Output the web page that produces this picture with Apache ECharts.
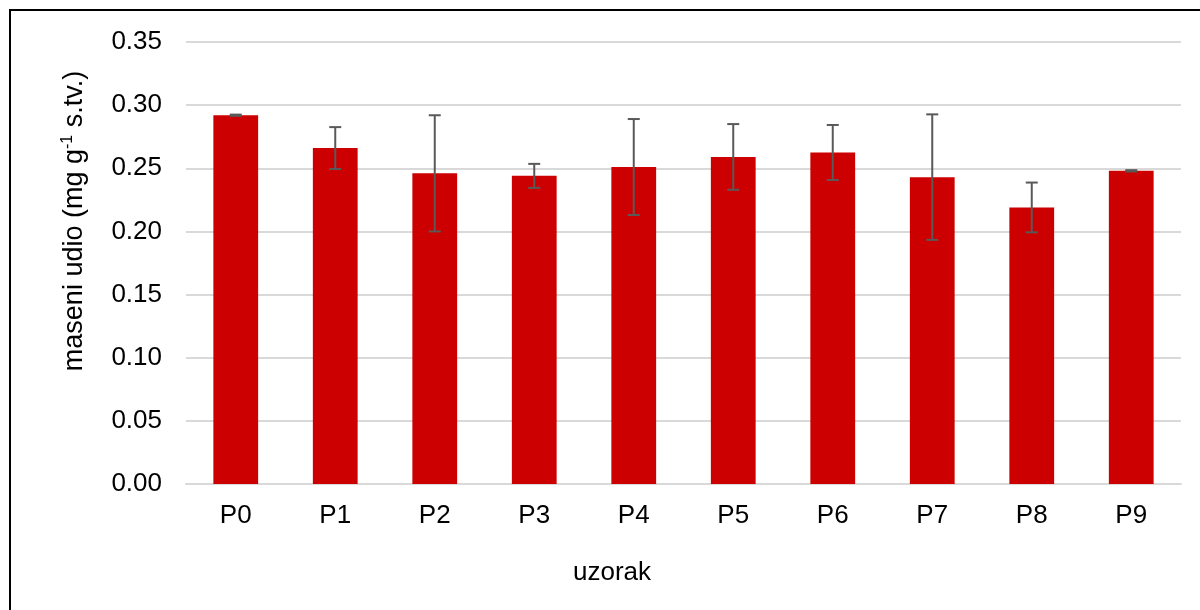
<!DOCTYPE html>
<html>
<head>
<meta charset="utf-8">
<script src="https://cdn.jsdelivr.net/npm/echarts@6/dist/echarts.min.js"></script>
<style>
  html, body { margin: 0; padding: 0; background: #fff; }
  #chart { width: 1200px; height: 610px; }
</style>
</head>
<body>
<div id="chart"></div>
<script>
// podaci
var categories = ['P0', 'P1', 'P2', 'P3', 'P4', 'P5', 'P6', 'P7', 'P8', 'P9'];
var means = [0.292, 0.266, 0.246, 0.244, 0.251, 0.259, 0.2625, 0.243, 0.219, 0.248];
var sd = [0.0005, 0.0166, 0.046, 0.0095, 0.038, 0.026, 0.0218, 0.0497, 0.0197, 0.0005];

var errData = means.map(function (m, i) {
  return [i, m - sd[i], m + sd[i]];
});

var font = "'Liberation Sans', Arial, sans-serif";
var chart = echarts.init(document.getElementById('chart'));

chart.setOption({
  animation: false,
  backgroundColor: '#fff',
  grid: { left: 186, right: 19, top: 42, bottom: 126 },
  graphic: [
    {
      type: 'rect',
      shape: { x: 10, y: 10, width: 1300, height: 700 },
      style: { fill: 'none', stroke: '#000', lineWidth: 2 },
      silent: true
    },
    {
      type: 'text',
      x: 75,
      y: 221,
      rotation: Math.PI / 2, // čita se odozdo prema gore
      style: {
        text: '{a|maseni udio (mg g}{s|-1}{a| s.tv.)}',
        align: 'center',
        verticalAlign: 'middle',
        rich: {
          a: { fontSize: 27, fontFamily: font, fill: '#000', lineHeight: 30 },
          s: { fontSize: 16, fontFamily: font, fill: '#000', verticalAlign: 'top', lineHeight: 30 }
        }
      }
    },
    {
      type: 'text',
      x: 612,
      y: 573,
      style: {
        text: 'uzorak',
        align: 'center',
        verticalAlign: 'middle',
        fontSize: 26,
        fontFamily: font,
        fill: '#000'
      }
    }
  ],
  xAxis: {
    type: 'category',
    data: categories,
    axisLine: { show: true, lineStyle: { color: '#d9d9d9', width: 2 } },
    axisTick: { show: false },
    axisLabel: { color: '#000', fontSize: 26, fontFamily: font, margin: 19 }
  },
  yAxis: {
    type: 'value',
    min: 0,
    max: 0.35,
    interval: 0.05,
    axisLine: { show: false },
    axisTick: { show: false },
    splitLine: { lineStyle: { color: '#d9d9d9', width: 2 } },
    axisLabel: {
      color: '#000',
      fontSize: 26,
      fontFamily: font,
      margin: 24,
      formatter: function (v) { return v.toFixed(2); }
    }
  },
  series: [
    {
      type: 'bar',
      data: means,
      barWidth: '45%',
      itemStyle: { color: '#cc0000' }
    },
    {
      type: 'custom',
      data: errData,
      z: 10,
      renderItem: function (params, api) {
        var idx = api.value(0);
        var lo = api.coord([idx, api.value(1)]);
        var hi = api.coord([idx, api.value(2)]);
        var cap = 6;
        var st = { stroke: '#595959', lineWidth: 2 };
        return {
          type: 'group',
          children: [
            { type: 'line', shape: { x1: hi[0], y1: hi[1], x2: lo[0], y2: lo[1] }, style: st },
            { type: 'line', shape: { x1: hi[0] - cap, y1: hi[1], x2: hi[0] + cap, y2: hi[1] }, style: st },
            { type: 'line', shape: { x1: lo[0] - cap, y1: lo[1], x2: lo[0] + cap, y2: lo[1] }, style: st }
          ]
        };
      }
    }
  ]
});
</script>
</body>
</html>
